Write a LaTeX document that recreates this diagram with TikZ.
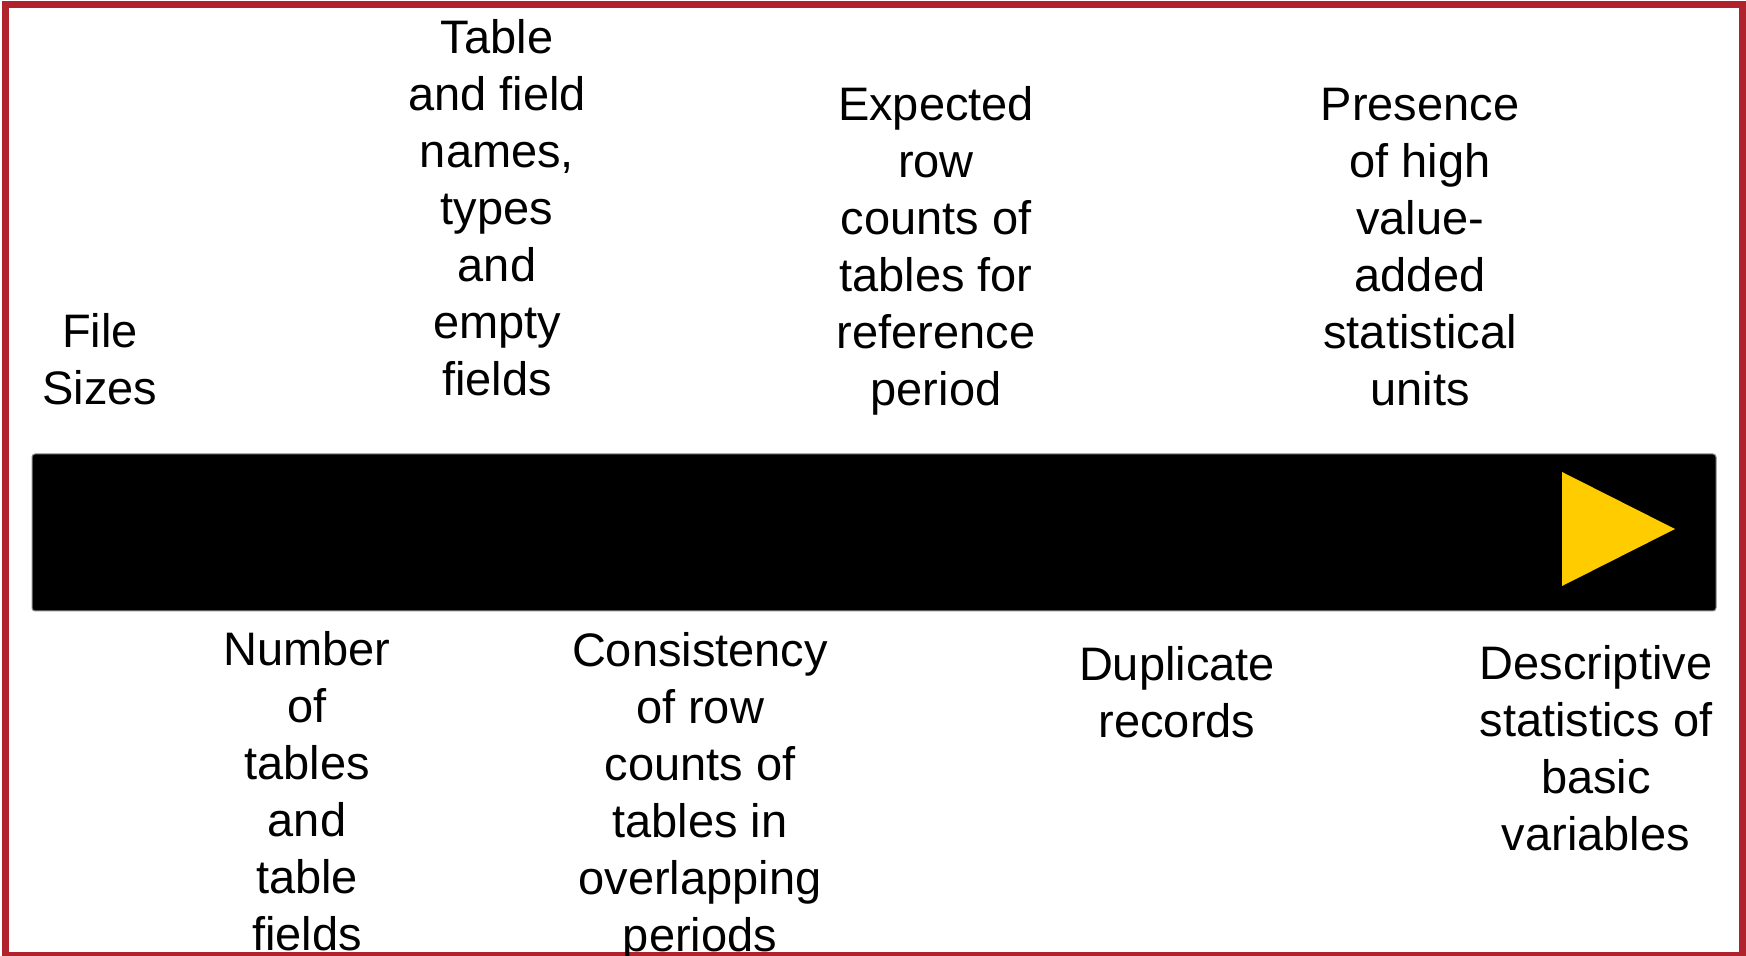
\documentclass[tikz,border=0pt]{standalone}
\usepackage{fontspec}
\setmainfont{Liberation Sans}
\definecolor{frame}{HTML}{B0232D}
\definecolor{marker}{HTML}{FFCC00}
\begin{document}
\begin{tikzpicture}[x=0.5pt,y=-0.5pt,
  label/.style={align=center,anchor=base,inner sep=0pt,
    font=\fontsize{23.5pt}{28.5pt}\selectfont},
  framebox/.style={draw=frame,line width=3.5pt},
  timebar/.style={fill=black,draw=black!45,line width=0.5pt,rounded corners=1.5pt},
  tip/.style={fill=marker}]
\useasboundingbox (0,0) rectangle (1746,956);
% outer frame
\draw[framebox] (5,4.5) rectangle (1742.5,955.5);
% timeline bar with its marker
\path[timebar] (32,454) rectangle (1716,611);
\fill[tip] (1562,472) -- (1675,529) -- (1562,586) -- cycle;
% labels above the bar (positioned by the baseline of their last line)
\node[label] (sizes) at (100,405) {File\\Sizes};
\node[label] (names) at (497,396) {Table\\and field\\names,\\types\\and\\empty\\fields};
\node[label] (expected) at (936,406) {Expected\\row\\counts of\\tables for\\reference\\period};
\node[label] (presence) at (1420,406) {Presence\\of high\\value-\\added\\statistical\\units};
% labels below the bar
\node[label] (number) at (307,950) {Number\\of\\tables\\and\\table\\fields};
\node[label] (consistency) at (700,951) {Consistency\\of row\\counts of\\tables in\\overlapping\\periods};
\node[label] (duplicate) at (1177,738) {Duplicate\\records};
\node[label] (descriptive) at (1596,850) {Descriptive\\statistics of\\basic\\variables};
\end{tikzpicture}
\end{document}
